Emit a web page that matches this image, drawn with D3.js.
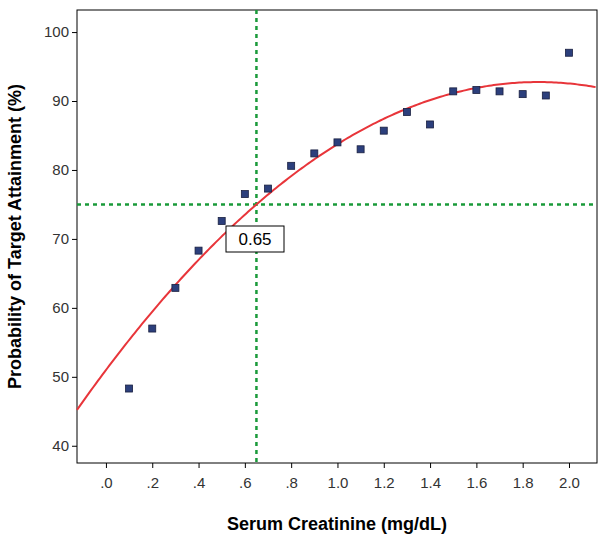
<!DOCTYPE html>
<html><head><meta charset="utf-8">
<script src="https://cdn.jsdelivr.net/npm/d3@7"></script>
<style>body{margin:0;background:#fff}</style></head>
<body><svg id="c" width="604" height="544"></svg>
<script>
const creatinine=[0.1,0.2,0.3,0.4,0.5,0.6,0.7,0.8,0.9,1.0,1.1,1.2,1.3,1.4,1.5,1.6,1.7,1.8,1.9,2.0];
const pta=[48.3,57,62.9,68.3,72.6,76.5,77.3,80.6,82.4,84,83,85.7,88.4,86.6,91.4,91.6,91.4,91,90.8,97];
const fitCoef=[50.98,44.74,-11.98];
const xTicks=[0,0.2,0.4,0.6,0.8,1.0,1.2,1.4,1.6,1.8,2.0];
const xTickLabels=[".0",".2",".4",".6",".8","1.0","1.2","1.4","1.6","1.8","2.0"];
const yTicks=[40,50,60,70,80,90,100];
const cutX=0.65, cutY=75;
const svg=d3.select("#c");
const L=77,R=597,T=10,B=463;
const x=d3.scaleLinear().domain([-0.125,2.121]).range([L,R]);
const y=d3.scaleLinear().domain([37.5,103.2]).range([B,T]);
svg.append("rect").attr("x",L).attr("y",T).attr("width",R-L).attr("height",B-T).attr("fill","none").attr("stroke","#000").attr("stroke-width",1);
const xa=svg.append("g").attr("transform",`translate(0,${B})`).call(d3.axisBottom(x).tickValues(xTicks).tickFormat((d,i)=>xTickLabels[i]).tickSize(5).tickSizeOuter(0));
const ya=svg.append("g").attr("transform",`translate(${L},0)`).call(d3.axisLeft(y).tickValues(yTicks).tickSize(5).tickSizeOuter(0));
[xa,ya].forEach(a=>{a.select(".domain").remove();a.selectAll("text").attr("font-family","Arial, Liberation Sans").attr("font-size",15).attr("fill","#333");});
xa.selectAll("text").attr("dy","1.1em");
svg.append("text").attr("x",(L+R)/2).attr("y",530).attr("text-anchor","middle").attr("font-family","Arial, Liberation Sans").attr("font-weight","bold").attr("font-size",18).text("Serum Creatinine (mg/dL)");
svg.append("text").attr("transform",`translate(21,${(T+B)/2}) rotate(-90)`).attr("text-anchor","middle").attr("font-family","Arial, Liberation Sans").attr("font-weight","bold").attr("font-size",18).text("Probability of Target Attainment (%)");
const g=svg.append("g");
g.append("line").attr("x1",x(cutX)).attr("x2",x(cutX)).attr("y1",T).attr("y2",B).attr("stroke","#1a9a3a").attr("stroke-width",2.5).attr("stroke-dasharray","4,4");
g.append("line").attr("x1",L).attr("x2",R).attr("y1",y(cutY)).attr("y2",y(cutY)).attr("stroke","#1a9a3a").attr("stroke-width",2.5).attr("stroke-dasharray","4,4");
const xs=d3.range(-0.125,2.122,0.01);
g.append("path").datum(xs).attr("fill","none").attr("stroke","#e8353a").attr("stroke-width",2)
 .attr("d",d3.line().x(d=>x(d)).y(d=>y(fitCoef[0]+fitCoef[1]*d+fitCoef[2]*d*d)));
g.selectAll("rect.p").data(creatinine).enter().append("rect").attr("class","p")
 .attr("x",(d)=>x(d)-3.5).attr("y",(d,i)=>y(pta[i])-3.5).attr("width",7).attr("height",7)
 .attr("fill","#2c3f7c").attr("stroke","#1a2040").attr("stroke-width",0.8);
const lb=svg.append("g");
lb.append("rect").attr("x",226).attr("y",226).attr("width",58).attr("height",26).attr("fill","#fff").attr("stroke","#000");
lb.append("text").attr("x",255).attr("y",245).attr("text-anchor","middle").attr("font-family","Arial, Liberation Sans").attr("font-size",17).text(String(cutX));
</script></body></html>
